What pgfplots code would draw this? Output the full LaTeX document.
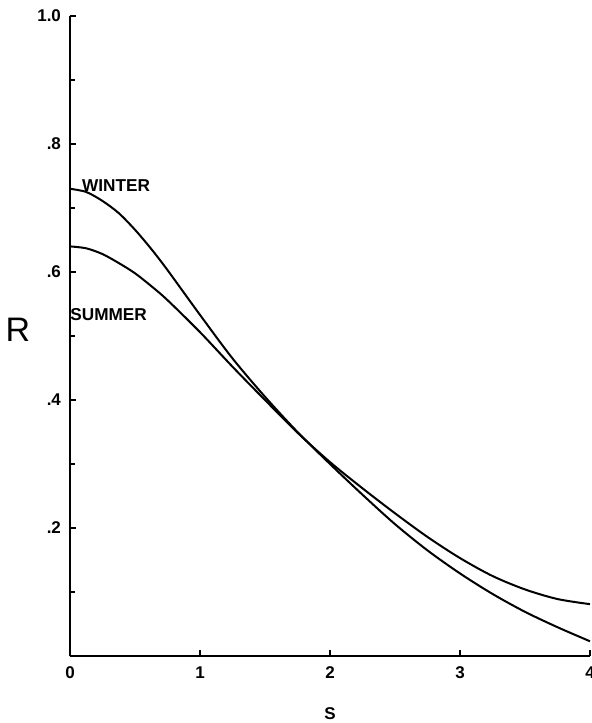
\documentclass[border=0pt]{standalone}
\usepackage{fontspec}
\setmainfont{Liberation Sans}
\usepackage{pgfplots}
\pgfplotsset{compat=1.18}
\begin{document}
\begin{tikzpicture}
\begin{axis}[
  scale only axis, width=260pt, height=320pt,
  xmin=0, xmax=4, ymin=0, ymax=1,
  axis x line=bottom, axis y line=left,
  axis line style={-, line width=1pt},
  clip=false,
  xtick={0,1,2,3,4}, xticklabels={0,1,2,3,4},
  ytick={0.2,0.4,0.6,0.8,1.0}, yticklabels={.2,.4,.6,.8,1.0},
  minor ytick={0.1,0.3,0.5,0.7,0.9},
  tick align=inside,
  major tick length=3pt, minor tick length=2.5pt,
  tick style={black, line width=0.8pt},
  /pgf/number format/assume math mode=true,
  ticklabel style={font=\bfseries\fontsize{8.5}{9}\selectfont},
  xticklabel style={yshift=-2pt},
  yticklabel style={xshift=-1pt},
]
\addplot[black, line width=1pt, smooth] coordinates {
(0,0.730) (0.125,0.725) (0.25,0.711) (0.375,0.692) (0.5,0.666) (0.625,0.636) (0.75,0.603) (1.0,0.533) (1.25,0.465) (1.5,0.405) (1.75,0.350) (2.0,0.300) (2.25,0.252) (2.5,0.206) (2.75,0.165) (3.0,0.129) (3.25,0.097) (3.5,0.069) (3.75,0.045) (4.0,0.023)
};
\addplot[black, line width=1pt, smooth] coordinates {
(0,0.640) (0.125,0.637) (0.25,0.628) (0.375,0.614) (0.5,0.598) (0.625,0.578) (0.75,0.556) (1.0,0.506) (1.25,0.452) (1.5,0.400) (1.75,0.349) (2.0,0.303) (2.25,0.262) (2.5,0.223) (2.75,0.186) (3.0,0.153) (3.25,0.125) (3.5,0.104) (3.75,0.089) (4.0,0.081)
};
\node[anchor=west, inner sep=0pt, font=\bfseries\fontsize{8.6}{10}\selectfont] at (axis cs:0.09,0.735) {WINTER};
\node[anchor=west, inner sep=0pt, font=\bfseries\fontsize{8.6}{10}\selectfont] at (axis cs:0.0,0.533) {SUMMER};
\node[font=\fontsize{17}{18}\selectfont] at (axis cs:-0.40,0.51) {R};
\node[font=\bfseries\fontsize{8.5}{9}\selectfont] at (axis cs:2.0,-0.09) {S};
\coordinate (bl) at (axis cs:0,0);
\coordinate (tr) at (axis cs:4,1);
\end{axis}
\pgfresetboundingbox
\path ([xshift=-35pt,yshift=-33.5pt]bl) rectangle ([xshift=1pt,yshift=8pt]tr);
\end{tikzpicture}
\end{document}
